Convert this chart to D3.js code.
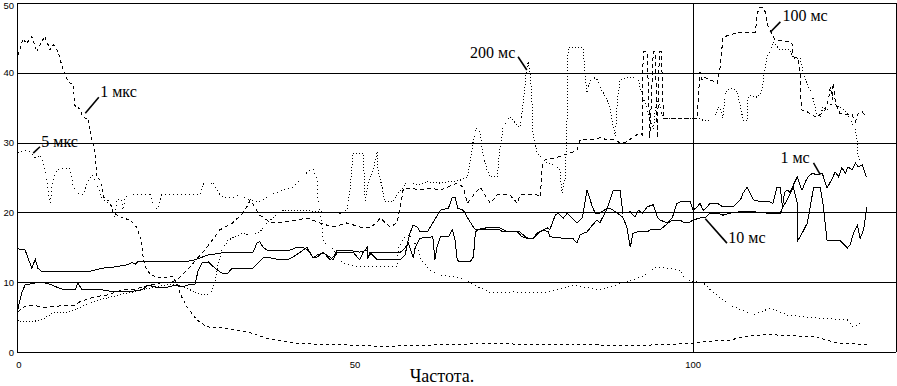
<!DOCTYPE html>
<html><head><meta charset="utf-8">
<script src="https://cdn.jsdelivr.net/npm/d3@7"></script>
<style>body{margin:0;background:#fff}svg{display:block}</style>
</head><body>
<svg id="c" width="897" height="386"></svg>
<script>
const xTicks=[0,50,100];
const yTicks=[0,10,20,30,40,50];
const xLabel="Частота.";

const s1mks=[[0.2,42.6],[0.9,44.9],[1.4,44.2],[2.2,45.2],[2.9,43.0],[3.4,44.0],[4.1,45.2],[4.9,43.3],[5.4,44.0],[6.1,43.0],[6.8,40.4],[7.6,38.7],[8.3,38.3],[8.6,35.1],[9.3,34.9],[9.6,34.0],[10.1,33.5],[10.5,33.5],[11.1,30.4],[11.5,28.9],[11.8,25.1],[12.3,24.6],[12.8,22.2],[13.3,21.8],[13.8,21.5],[14.2,19.9],[15.7,19.2],[16.7,18.9],[17.7,17.9],[18.4,16.0],[18.7,13.2],[19.2,11.7],[19.9,11.0],[21.2,10.6],[23.1,10.8],[23.9,9.4],[24.1,8.4],[25.1,6.5],[26.6,4.6],[28.1,3.6],[31.0,3.4],[34.0,2.9],[36.9,2.0],[39.9,1.5],[41.9,1.2],[48.8,1.0],[53.7,0.8],[68.5,1.2],[86.2,1.0],[90.7,0.9],[99.6,1.2],[101.5,1.5],[105.5,1.7],[107.4,2.2],[110.9,2.5],[117.8,2.2],[119.8,1.7],[121.7,1.2],[125.7,1.1]];

const s5mks=[[0.1,28.5],[1.2,28.9],[1.9,28.7],[2.7,27.8],[3.4,28.2],[4.1,26.5],[4.6,23.2],[4.9,21.3],[5.3,24.6],[5.9,26.1],[7.8,26.4],[8.3,23.9],[8.6,22.9],[9.8,22.5],[10.4,24.2],[11.1,25.4],[11.5,24.6],[12.3,22.8],[12.7,21.8],[13.8,21.1],[14.2,20.3],[14.5,19.3],[14.8,21.8],[15.5,21.8],[15.7,20.3],[16.0,22.2],[16.7,22.5],[19.7,22.5],[20.4,20.6],[20.9,20.5],[21.4,22.5],[23.7,22.6],[27.1,22.5],[27.5,24.2],[28.1,23.5],[29.0,24.4],[29.7,22.9],[30.5,22.1],[31.9,22.1],[32.7,22.5],[34.5,21.8],[35.9,21.5],[37.4,22.5],[39.4,23.2],[40.8,23.6],[42.3,25.1],[43.3,26.1],[43.8,26.1],[44.4,24.6],[44.5,22.2],[44.8,20.1],[45.1,17.9],[45.3,15.8],[46.6,14.9],[47.8,13.2],[48.2,12.8],[49.3,12.5],[50.7,12.2],[56.2,12.2],[56.4,15.0],[57.0,16.0],[57.4,16.5],[58.1,16.8],[58.6,16.0],[59.2,15.0],[59.6,13.6],[60.1,12.8],[61.1,11.7],[62.6,11.0],[65.5,10.7],[67.0,9.9],[70.0,8.5],[73.4,8.6],[78.4,8.5],[82.2,9.6],[86.2,8.9],[89.6,9.9],[92.2,10.7],[94.7,12.2],[98.1,11.7],[98.8,10.3],[101.5,9.9],[103.0,8.5],[105.5,6.7],[108.9,5.3],[111.4,6.3],[113.9,5.3],[117.8,4.9],[122.8,4.6],[123.7,3.6],[125.4,4.6]];

const s1ms=[[0.1,6.0],[0.7,8.5],[1.2,9.6],[2.7,9.9],[4.1,9.9],[5.2,9.6],[6.1,9.2],[7.1,8.9],[8.6,8.9],[9.0,9.9],[9.6,8.9],[12.6,8.9],[14.5,8.6],[16.4,8.6],[18.5,8.9],[19.4,9.6],[20.4,9.3],[21.4,9.2],[22.3,9.3],[23.4,9.6],[24.4,9.3],[25.3,9.6],[26.3,9.6],[26.8,11.7],[27.4,12.8],[28.3,12.9],[29.3,12.0],[30.3,11.3],[31.2,11.3],[31.8,12.0],[34.9,12.0],[35.7,12.8],[36.4,13.5],[37.4,13.5],[38.9,13.2],[39.9,13.2],[40.8,13.6],[41.9,14.3],[42.9,15.0],[43.3,14.3],[43.8,13.5],[44.4,13.9],[45.3,14.2],[46.3,13.6],[46.7,13.2],[47.3,14.2],[48.8,14.3],[49.7,14.3],[50.7,13.2],[51.2,14.3],[51.8,15.0],[51.9,13.5],[52.5,14.3],[56.7,14.3],[57.1,14.6],[57.7,15.3],[58.1,17.0],[58.6,18.2],[59.2,17.9],[59.6,17.2],[60.7,17.2],[61.5,18.5],[62.6,20.3],[63.8,20.6],[64.4,22.2],[64.8,22.2],[65.2,20.6],[66.0,20.3],[66.6,19.3],[67.3,18.2],[67.8,17.5],[69.5,17.8],[71.4,17.8],[72.5,17.2],[74.4,17.2],[75.4,16.3],[76.3,16.3],[77.4,17.2],[78.4,17.8],[78.8,17.5],[79.6,19.6],[80.0,19.9],[80.8,19.2],[81.4,19.9],[82.1,19.2],[82.8,18.5],[83.6,19.2],[84.3,23.2],[85.1,20.8],[85.5,19.9],[86.2,19.9],[87.3,20.6],[88.2,23.2],[89.2,23.2],[89.6,19.9],[90.7,20.1],[91.4,19.3],[91.9,20.3],[92.5,19.9],[93.2,20.8],[94.1,21.1],[94.7,19.3],[95.1,18.9],[96.2,18.5],[96.9,19.2],[97.6,21.3],[98.1,21.5],[99.6,21.5],[100.0,20.3],[100.6,20.8],[101.0,21.3],[101.5,20.3],[102.1,20.8],[102.5,21.3],[103.6,21.3],[104.4,20.8],[105.9,20.8],[107.0,21.8],[107.4,22.8],[108.0,23.6],[108.4,22.8],[108.9,21.8],[110.2,21.5],[111.4,21.5],[111.8,21.3],[112.4,23.6],[112.9,23.5],[113.2,20.8],[113.5,22.8],[113.9,23.2],[114.3,22.9],[114.8,23.9],[115.4,25.1],[115.8,23.9],[116.1,23.2],[116.6,24.4],[117.0,25.1],[117.6,25.6],[118.3,25.4],[119.1,25.6],[119.8,23.5],[120.6,24.9],[121.0,25.8],[121.5,25.1],[122.0,26.4],[122.5,25.6],[122.9,26.5],[123.5,26.1],[124.0,27.1],[124.4,26.5],[125.0,26.8],[125.6,25.1]];

const s10ms=[[0.1,14.8],[1.2,14.6],[2.2,12.0],[2.7,13.3],[3.1,12.0],[3.7,11.5],[6.1,11.5],[10.5,11.5],[12.6,12.0],[14.5,12.2],[16.4,12.5],[17.0,12.8],[17.5,12.6],[17.9,13.0],[19.4,13.0],[25.3,13.0],[26.3,13.2],[27.4,13.6],[28.3,13.9],[30.3,14.2],[32.2,14.2],[34.9,14.3],[35.5,15.6],[35.9,15.8],[36.4,15.0],[37.0,14.6],[40.4,14.6],[41.4,15.0],[42.3,15.0],[43.0,14.6],[43.8,13.5],[44.4,13.6],[45.3,14.3],[46.3,13.2],[47.0,13.9],[47.3,14.6],[48.8,14.6],[50.7,14.3],[51.8,14.6],[51.9,13.5],[52.2,14.3],[53.3,13.2],[56.7,13.2],[57.4,13.9],[57.8,15.8],[58.1,15.0],[58.6,13.5],[58.9,15.0],[59.6,16.3],[61.5,16.5],[61.8,13.2],[62.1,15.0],[62.6,16.5],[63.8,16.5],[64.4,17.5],[64.8,16.0],[65.1,13.2],[65.5,12.9],[67.0,12.9],[67.5,13.6],[67.8,17.2],[68.2,17.5],[71.4,17.5],[71.9,17.2],[74.0,17.2],[74.7,16.5],[76.3,16.2],[76.9,17.0],[77.8,17.5],[78.6,17.2],[78.8,16.5],[81.8,16.2],[82.2,16.3],[82.8,15.6],[83.3,16.8],[84.3,17.2],[85.1,18.2],[85.8,18.9],[86.2,18.5],[87.3,20.6],[87.7,20.6],[88.8,19.9],[89.6,19.3],[90.2,17.9],[90.7,15.0],[91.1,17.0],[91.7,17.2],[93.2,17.2],[93.6,17.5],[95.1,17.5],[95.6,17.9],[96.3,18.5],[96.9,18.9],[98.1,18.9],[98.5,18.6],[99.3,18.5],[100.0,18.9],[101.0,19.2],[101.8,19.2],[102.5,19.9],[103.6,19.9],[104.4,19.6],[105.5,19.9],[107.0,20.1],[108.9,20.1],[110.9,19.9],[112.9,19.9],[113.3,20.8],[113.9,21.8],[114.8,23.6],[115.4,21.3],[115.5,16.0],[116.1,17.0],[116.9,18.5],[117.8,23.5],[118.8,23.6],[119.2,21.3],[119.8,16.0],[121.7,16.0],[122.8,14.9],[123.2,15.3],[123.7,17.0],[124.3,18.2],[124.7,16.3],[125.2,17.5],[125.7,20.8]];

const s100ms=[[0.1,5.7],[0.7,6.3],[1.5,6.7],[2.4,6.7],[3.8,6.4],[6.4,6.6],[8.3,6.6],[9.3,7.2],[11.5,7.9],[13.5,8.2],[15.5,8.9],[17.0,8.9],[18.5,9.3],[19.7,9.6],[21.2,9.9],[22.6,10.0],[23.7,10.3],[25.6,12.2],[28.1,15.0],[30.0,17.5],[31.9,18.5],[33.4,19.9],[34.0,20.8],[34.5,21.8],[35.9,19.6],[37.4,18.6],[38.9,18.5],[41.4,18.9],[42.9,19.2],[44.8,18.5],[46.7,17.9],[48.8,18.5],[50.7,17.9],[52.2,17.8],[53.3,18.6],[53.7,19.2],[55.2,17.9],[56.2,18.5],[56.7,20.8],[57.1,23.2],[58.1,23.5],[59.6,23.2],[61.1,23.5],[62.6,23.2],[64.1,23.8],[65.1,24.2],[66.0,23.6],[66.6,21.3],[67.3,22.2],[68.5,23.6],[69.2,22.5],[70.0,21.3],[71.0,22.5],[72.9,22.5],[74.0,21.3],[74.4,22.5],[76.9,22.5],[77.4,22.2],[77.7,27.1],[78.1,27.5],[79.9,27.9],[81.8,28.5],[82.8,28.9],[83.3,30.4],[84.0,30.5],[85.2,30.4],[86.2,30.7],[87.3,30.4],[88.5,30.4],[89.2,29.9],[90.2,30.1],[91.1,30.8],[92.2,31.4],[92.5,31.1],[92.6,43.0],[93.2,43.0],[93.6,30.7],[94.1,43.0],[94.4,43.0],[94.7,30.7],[95.0,43.0],[95.3,43.0],[95.6,33.5],[100.6,33.5],[101.0,40.1],[101.3,39.0],[101.5,39.4],[102.5,39.0],[103.6,38.5],[103.7,39.3],[104.0,40.8],[104.4,45.0],[105.2,45.4],[106.5,45.7],[108.0,45.8],[109.2,45.8],[109.5,48.6],[109.9,49.4],[110.4,49.4],[110.7,48.6],[110.9,47.1],[111.4,46.1],[112.1,44.7],[112.4,44.7],[114.3,44.4],[114.6,44.3],[114.8,42.3],[115.5,42.1],[115.8,40.1],[116.0,34.7],[116.9,34.4],[118.0,33.7],[118.8,34.0],[119.5,34.7],[120.0,36.1],[120.3,38.0],[120.6,36.1],[120.7,38.5],[121.0,36.1],[121.3,35.1],[121.7,34.2],[122.8,34.0],[123.5,34.0],[124.0,33.0],[124.4,34.2],[125.0,34.4],[125.4,34.0]];

const s200ms=[[0.1,4.6],[0.9,4.3],[1.9,4.3],[3.7,4.6],[5.3,5.6],[7.4,5.7],[9.3,6.4],[12.3,7.5],[15.2,8.2],[17.2,8.6],[18.2,8.9],[20.4,9.3],[21.9,9.6],[23.4,9.7],[25.6,8.9],[27.4,8.2],[28.5,8.2],[29.3,9.9],[29.7,12.5],[30.3,14.6],[31.2,16.0],[32.2,16.5],[33.4,17.0],[34.5,16.8],[35.9,17.2],[37.4,18.9],[39.4,20.3],[41.9,20.3],[44.8,20.1],[47.8,19.9],[48.8,20.3],[49.3,23.6],[49.7,28.5],[51.2,28.5],[51.5,21.5],[51.8,23.6],[52.7,26.1],[53.3,28.7],[53.4,26.1],[54.0,23.6],[54.4,21.5],[55.6,21.5],[56.2,22.5],[57.7,24.4],[59.2,23.9],[60.6,24.4],[62.6,24.2],[65.5,24.6],[66.6,25.1],[67.0,27.1],[67.5,30.4],[68.0,32.2],[68.5,31.4],[68.9,28.5],[69.5,26.1],[70.0,25.1],[71.0,25.1],[71.4,28.9],[71.9,32.2],[72.9,33.7],[74.0,32.5],[74.4,32.2],[74.9,36.1],[75.4,40.8],[75.6,41.4],[75.9,40.0],[76.2,35.1],[76.3,31.4],[76.9,28.5],[78.1,27.2],[79.6,26.8],[80.3,26.1],[80.6,22.8],[81.1,25.1],[81.4,35.1],[81.5,43.6],[83.7,43.6],[84.0,40.0],[84.3,37.1],[84.8,39.0],[85.2,39.4],[85.8,39.0],[86.2,38.0],[86.7,37.1],[87.3,36.1],[87.7,35.1],[88.2,32.2],[88.5,30.8],[88.8,36.1],[89.2,39.0],[90.2,39.3],[91.1,39.3],[91.9,39.0],[92.5,36.5],[92.9,35.7],[93.2,34.7],[93.6,33.7],[94.1,31.8],[94.4,34.7],[94.7,36.1],[95.1,35.1],[95.6,33.5],[100.6,33.5],[101.5,33.2],[102.5,33.2],[103.3,34.0],[103.7,35.1],[104.0,34.7],[104.4,33.5],[104.7,36.5],[105.0,37.5],[105.8,37.8],[106.5,37.3],[107.0,35.1],[107.4,33.2],[108.0,33.2],[108.1,36.1],[108.4,36.8],[109.5,36.5],[110.2,37.5],[110.4,39.4],[110.9,42.1],[111.4,43.3],[111.8,44.4],[112.9,43.3],[114.3,43.3],[114.8,42.1],[115.8,42.1],[116.3,40.0],[116.9,38.3],[117.3,37.5],[117.8,36.1],[118.3,34.0],[118.8,33.7],[119.2,35.1],[119.8,34.7],[120.6,35.7],[121.7,35.1],[122.8,34.2],[123.5,32.8],[124.0,31.8],[124.3,29.9],[124.4,27.9],[124.7,27.5]];

const seriesNames=["1 мкс","5 мкс","1 мс","10 мс","100 мс","200 мс"];
const seriesData=[s1mks,s5mks,s1ms,s10ms,s100ms,s200ms];
const seriesDash=["3,3","1,3",null,null,"4,3","1,2"];

// annotation: [label, textX, textY, leaderFromX, leaderFromY, leaderToX, leaderToY]
const notes=[
 ["1 мкс",12.3,36.5,10.1,34.2,12.1,36.5],
 ["5 мкс",3.6,29.4,2.4,28.5,3.4,29.4],
 ["200 мс",67.0,42.1,75.4,40.4,74.1,42.3],
 ["100 мс",113.2,47.4,111.4,45.8,112.9,47.3],
 ["1 мс",112.9,27.1,118.8,25.4,117.8,27.1],
 ["10 мс",105.2,15.6,101.8,19.1,105.0,15.6]
];

const svg=d3.select("#c");
const x=d3.scaleLinear().domain([0,130]).range([17,896]);
const y=d3.scaleLinear().domain([0,50]).range([352,3]);

svg.append("rect").attr("width",897).attr("height",386).attr("fill","#fff");

const g=svg.append("g").attr("shape-rendering","crispEdges");
g.selectAll("line.h").data(yTicks).join("line")
 .attr("x1",x(0)).attr("x2",x(130)).attr("y1",d=>Math.round(y(d))+0.5).attr("y2",d=>Math.round(y(d))+0.5)
 .attr("stroke","#000").attr("stroke-width",1);
g.selectAll("line.v").data([0,100,130]).join("line")
 .attr("y1",y(0)).attr("y2",y(50)).attr("x1",d=>Math.round(x(d))+0.5).attr("x2",d=>Math.round(x(d))+0.5)
 .attr("stroke","#000").attr("stroke-width",1);

svg.append("g").selectAll("text").data(yTicks).join("text")
 .attr("x",x(0)-3).attr("y",d=>Math.max(y(d)+3.5,9)).attr("text-anchor","end")
 .attr("font-family","Liberation Sans, Arial, sans-serif").attr("font-size",9.5).text(d=>d);
svg.append("g").selectAll("text").data(xTicks).join("text")
 .attr("x",d=>x(d)+(d===0?2:0)).attr("y",368).attr("text-anchor","middle")
 .attr("font-family","Liberation Sans, Arial, sans-serif").attr("font-size",9.5).text(d=>d);
svg.append("text").attr("x",442).attr("y",382).attr("text-anchor","middle")
 .attr("font-family","Liberation Serif, Times New Roman, serif").attr("font-size",18).text(xLabel);

const line=d3.line().x(d=>x(d[0])).y(d=>y(d[1]));
svg.append("g").attr("shape-rendering","crispEdges").selectAll("path").data(seriesData).join("path")
 .attr("d",line).attr("fill","none").attr("stroke","#000")
 .attr("stroke-width",1)
 .attr("stroke-dasharray",(d,i)=>seriesDash[i]);

const ng=svg.append("g");
ng.selectAll("line").data(notes).join("line")
 .attr("x1",d=>x(d[3])).attr("y1",d=>y(d[4])).attr("x2",d=>x(d[5])).attr("y2",d=>y(d[6]))
 .attr("stroke","#000").attr("stroke-width",1.6);
ng.selectAll("text").data(notes).join("text")
 .attr("x",d=>x(d[1])).attr("y",d=>y(d[2]))
 .attr("font-family","Liberation Serif, Times New Roman, serif").attr("font-size",16)
 .text(d=>d[0]);
</script>
</body></html>
